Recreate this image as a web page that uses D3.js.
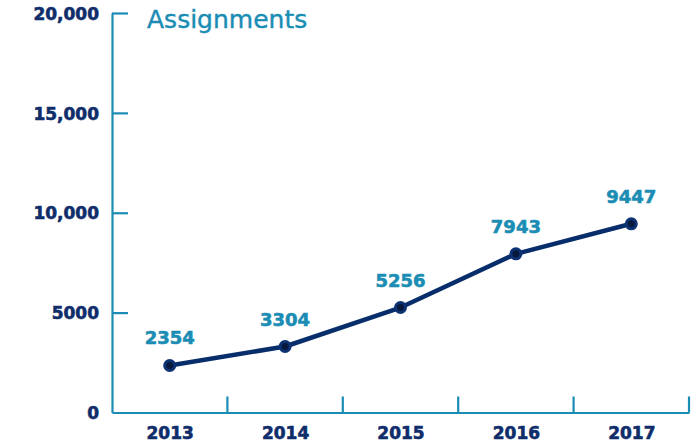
<!DOCTYPE html>
<html>
<head>
<meta charset="utf-8">
<script src="https://cdn.jsdelivr.net/npm/d3@7"></script>
<style>
  body { margin: 0; background: #fff; }
  #graph { width: 691px; height: 443px; }
  .axis text { font-family: "DejaVu Sans", sans-serif; font-weight: bold; font-size: 17px; fill: #0f2d6b; stroke: #0f2d6b; stroke-width: 0.6px; }
</style>
</head>
<body>
<div id="graph"></div>
<script>
// data
var years = ["2013", "2014", "2015", "2016", "2017"];
var assignments = [2354, 3304, 5256, 7943, 9447];
var yTicks = [0, 5000, 10000, 15000, 20000];
var yTickLabels = ["0", "5000", "10,000", "15,000", "20,000"];
var title = "Assignments";

var width = 691, height = 443;
var margin = { top: 13, left: 112, bottom: 30.5, right: 2 };
var chartWidth = width - margin.left - margin.right;
var chartHeight = height - margin.top - margin.bottom;

var teal = "#1b8db4";
var navy = "#082d6b";

var svg = d3.select("#graph").append("svg")
  .attr("width", width).attr("height", height);

var axisLayer = svg.append("g").attr("transform", "translate(" + [margin.left, margin.top] + ")");
var chartLayer = svg.append("g").attr("transform", "translate(" + [margin.left, margin.top] + ")");

var xBand = d3.scaleBand().domain(years).range([0, chartWidth]);
var xScale = d3.scalePoint().domain(years).range([0, chartWidth]).padding(0.5);
var yScale = d3.scaleLinear().domain([0, 20000]).range([chartHeight, 0]);

// y axis (ticks pointing inward)
var yAxis = axisLayer.append("g").attr("class", "axis y")
  .call(d3.axisLeft(yScale).tickValues(yTicks).tickSizeInner(-16).tickSizeOuter(0)
    .tickFormat(function(d, i) { return yTickLabels[i]; }));
yAxis.selectAll("line").attr("stroke", teal).attr("stroke-width", 2.2);
yAxis.select(".domain").attr("stroke", teal).attr("stroke-width", 2.2);
yAxis.selectAll("text").attr("x", -13).attr("dy", "0.36em");
// the 0 tick sits on the x axis
yAxis.selectAll(".tick").filter(function(d) { return d === 0; }).select("line").remove();

// x axis: tick marks between categories, labels in band centres
var xAxis = axisLayer.append("g").attr("class", "axis x")
  .attr("transform", "translate(0," + chartHeight + ")")
  .call(d3.axisBottom(xScale).tickSize(0).tickPadding(14.5));
xAxis.select(".domain").attr("stroke", teal).attr("stroke-width", 2.2);
xAxis.selectAll("text").attr("dy", "0.71em");

axisLayer.selectAll(".xsep")
  .data(years)
  .enter().append("line")
  .attr("class", "xsep")
  .attr("x1", function(d) { return xBand(d) + xBand.bandwidth(); })
  .attr("x2", function(d) { return xBand(d) + xBand.bandwidth(); })
  .attr("y1", chartHeight)
  .attr("y2", chartHeight - 16)
  .attr("stroke", teal).attr("stroke-width", 2.2);

// title
svg.append("text")
  .attr("x", 147).attr("y", 28)
  .attr("font-family", "DejaVu Sans, sans-serif")
  .attr("font-size", "25px")
  .attr("fill", teal)
  .attr("stroke", teal)
  .attr("stroke-width", 0.4)
  .text(title);

var data = years.map(function(y, i) { return { year: y, value: assignments[i] }; });

var line = d3.line()
  .x(function(d) { return xScale(d.year); })
  .y(function(d) { return yScale(d.value); });

chartLayer.append("path")
  .datum(data)
  .attr("d", line)
  .attr("fill", "none")
  .attr("stroke", navy)
  .attr("stroke-width", 4.5)
  .attr("stroke-linejoin", "round");

chartLayer.selectAll(".dot")
  .data(data)
  .enter().append("circle")
  .attr("class", "dot")
  .attr("cx", function(d) { return xScale(d.year); })
  .attr("cy", function(d) { return yScale(d.value); })
  .attr("r", 5)
  .attr("fill", "#071a3e")
  .attr("stroke", "#0c3274")
  .attr("stroke-width", 3);

chartLayer.selectAll(".lbl")
  .data(data)
  .enter().append("text")
  .attr("class", "lbl")
  .attr("x", function(d) { return xScale(d.year); })
  .attr("y", function(d) { return yScale(d.value) - 21; })
  .attr("text-anchor", "middle")
  .attr("font-family", "DejaVu Sans, sans-serif")
  .attr("font-weight", "bold")
  .attr("font-size", "18px")
  .attr("fill", teal)
  .attr("stroke", teal)
  .attr("stroke-width", 0.6)
  .text(function(d) { return d.value; });
</script>
</body>
</html>
